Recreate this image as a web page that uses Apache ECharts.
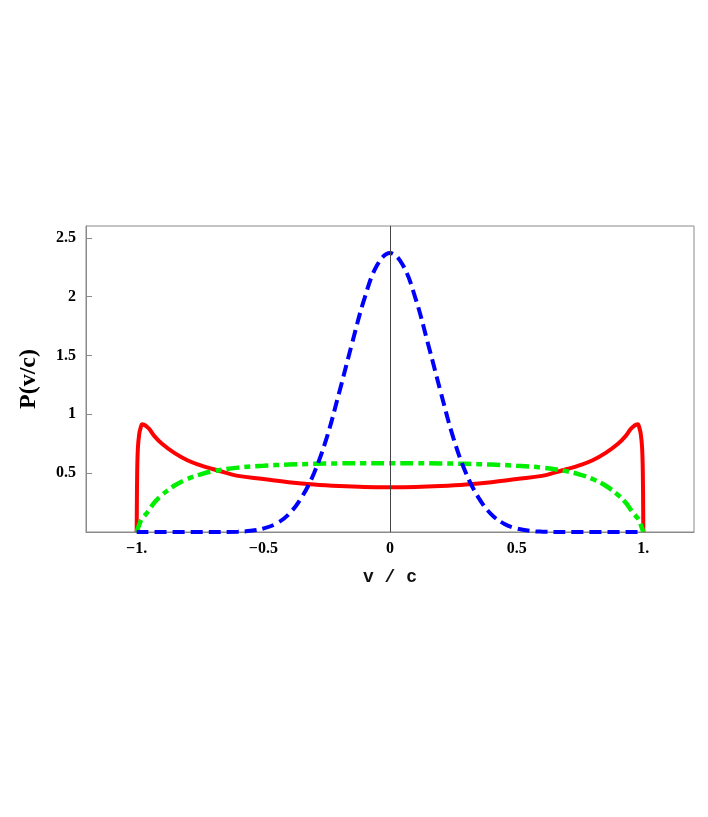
<!DOCTYPE html>
<html>
<head>
<meta charset="utf-8">
<script src="https://cdn.jsdelivr.net/npm/echarts@6/dist/echarts.min.js"></script>
<style>
html, body { margin: 0; padding: 0; background: #fff; }
#chart { width: 708px; height: 817px; }
</style>
</head>
<body>
<div id="chart"></div>
<script>
// red solid curve
const redV = [-1, -0.998, -0.995, -0.99, -0.985, -0.978, -0.97, -0.96, -0.95, -0.93, -0.9, -0.85, -0.8, -0.75, -0.7, -0.65, -0.6, -0.5, -0.4, -0.3, -0.2, -0.1, 0,
  0.1, 0.2, 0.3, 0.4, 0.5, 0.6, 0.65, 0.7, 0.75, 0.8, 0.85, 0.9, 0.93, 0.95, 0.96, 0.97, 0.978, 0.985, 0.99, 0.995, 0.998, 1]
const redP = [0, 0.5, 0.72, 0.83, 0.88, 0.915, 0.91, 0.895, 0.875, 0.815, 0.75, 0.67, 0.61, 0.568, 0.535, 0.505, 0.477, 0.45, 0.423, 0.403, 0.39, 0.382, 0.38,
  0.382, 0.39, 0.403, 0.423, 0.45, 0.477, 0.505, 0.535, 0.568, 0.61, 0.67, 0.75, 0.815, 0.875, 0.895, 0.91, 0.915, 0.88, 0.83, 0.72, 0.5, 0]

// green dash-dot curve
const greenV = [-1, -0.99, -0.98, -0.96, -0.95, -0.93, -0.9, -0.85, -0.8, -0.75, -0.7, -0.6, -0.5, -0.4, -0.3, -0.2, -0.1, 0,
  0.1, 0.2, 0.3, 0.4, 0.5, 0.6, 0.7, 0.75, 0.8, 0.85, 0.9, 0.93, 0.95, 0.96, 0.98, 0.99, 1]
const greenP = [0, 0.06, 0.11, 0.16, 0.19, 0.25, 0.315, 0.395, 0.45, 0.488, 0.515, 0.547, 0.563, 0.573, 0.579, 0.583, 0.585, 0.585,
  0.585, 0.583, 0.579, 0.573, 0.563, 0.547, 0.515, 0.488, 0.45, 0.395, 0.315, 0.25, 0.19, 0.16, 0.11, 0.06, 0]

// blue dashed curve
const blueV = [-1, -0.7, -0.6, -0.55, -0.5, -0.45, -0.4, -0.35, -0.3, -0.25, -0.2, -0.15, -0.1, -0.05, 0,
  0.05, 0.1, 0.15, 0.2, 0.25, 0.3, 0.35, 0.4, 0.45, 0.5, 0.55, 0.6, 0.7, 1]
const blueP = [0, 0, 0.003, 0.01, 0.03, 0.07, 0.15, 0.29, 0.5, 0.8, 1.19, 1.6, 1.99, 2.27, 2.37,
  2.27, 1.99, 1.6, 1.19, 0.8, 0.5, 0.29, 0.15, 0.07, 0.03, 0.01, 0.003, 0, 0]

const xTicks = [-1, -0.5, 0, 0.5, 1]
const xTickText = ['\u22121.', '\u22120.5', '0', '0.5', '1.']

const pairs = (xs, ys) => xs.map((x, i) => [x, ys[i]])

const chart = echarts.init(document.getElementById('chart'))
const serif = '"Liberation Serif", "Times New Roman", serif'

chart.setOption({
  animation: false,
  grid: {
    left: 86,
    right: 14,
    top: 226,
    bottom: 285,
    show: true,
    borderColor: '#8a8a8a',
    borderWidth: 1
  },
  xAxis: {
    type: 'value',
    min: -1.2,
    max: 1.2,
    name: 'v / c',
    nameLocation: 'middle',
    nameGap: 36,
    nameTextStyle: {
      fontFamily: '"Liberation Mono", monospace',
      fontWeight: 'bold',
      fontSize: 18,
      color: '#111'
    },
    axisLine: { onZero: false, lineStyle: { color: '#8a8a8a' } },
    axisTick: { show: false },
    splitLine: { show: false },
    axisLabel: {
      customValues: xTicks,
      margin: 9,
      fontFamily: serif,
      fontWeight: 'bold',
      fontSize: 16,
      color: '#000',
      formatter(val) {
        const i = xTicks.findIndex(t => Math.abs(t - val) < 1e-6)
        return i >= 0 ? xTickText[i] : ''
      }
    }
  },
  yAxis: {
    type: 'value',
    min: 0,
    max: 2.6,
    interval: 0.5,
    name: 'P(v/c)',
    nameLocation: 'middle',
    nameGap: 45,
    nameRotate: 90,
    nameTextStyle: {
      fontFamily: serif,
      fontWeight: 'bold',
      fontSize: 24,
      color: '#000'
    },
    axisLine: { show: true, onZero: false, lineStyle: { color: '#8a8a8a' } },
    axisTick: { show: true, inside: true, length: 6, lineStyle: { color: '#8a8a8a' } },
    splitLine: { show: false },
    axisLabel: {
      margin: 10,
      fontFamily: serif,
      fontWeight: 'bold',
      fontSize: 16,
      color: '#000',
      formatter(val) {
        return val === 0 ? '' : String(val)
      }
    }
  },
  series: [
    {
      type: 'line',
      data: pairs(redV, redP),
      showSymbol: false,
      smooth: 0.4,
      lineStyle: { color: '#ff0000', width: 4 },
      markLine: {
        silent: true,
        symbol: 'none',
        label: { show: false },
        lineStyle: { color: '#444', width: 1, type: 'solid' },
        data: [{ xAxis: 0 }]
      },
      z: 2
    },
    {
      type: 'line',
      data: pairs(greenV, greenP),
      showSymbol: false,
      smooth: 0.4,
      lineStyle: { color: '#00ee00', width: 4.5, type: [13, 5, 6, 5] },
      z: 3
    },
    {
      type: 'line',
      data: pairs(blueV, blueP),
      showSymbol: false,
      smooth: 0.4,
      lineStyle: { color: '#0000ff', width: 4, type: [12, 6] },
      z: 4
    }
  ]
})
</script>
</body>
</html>
